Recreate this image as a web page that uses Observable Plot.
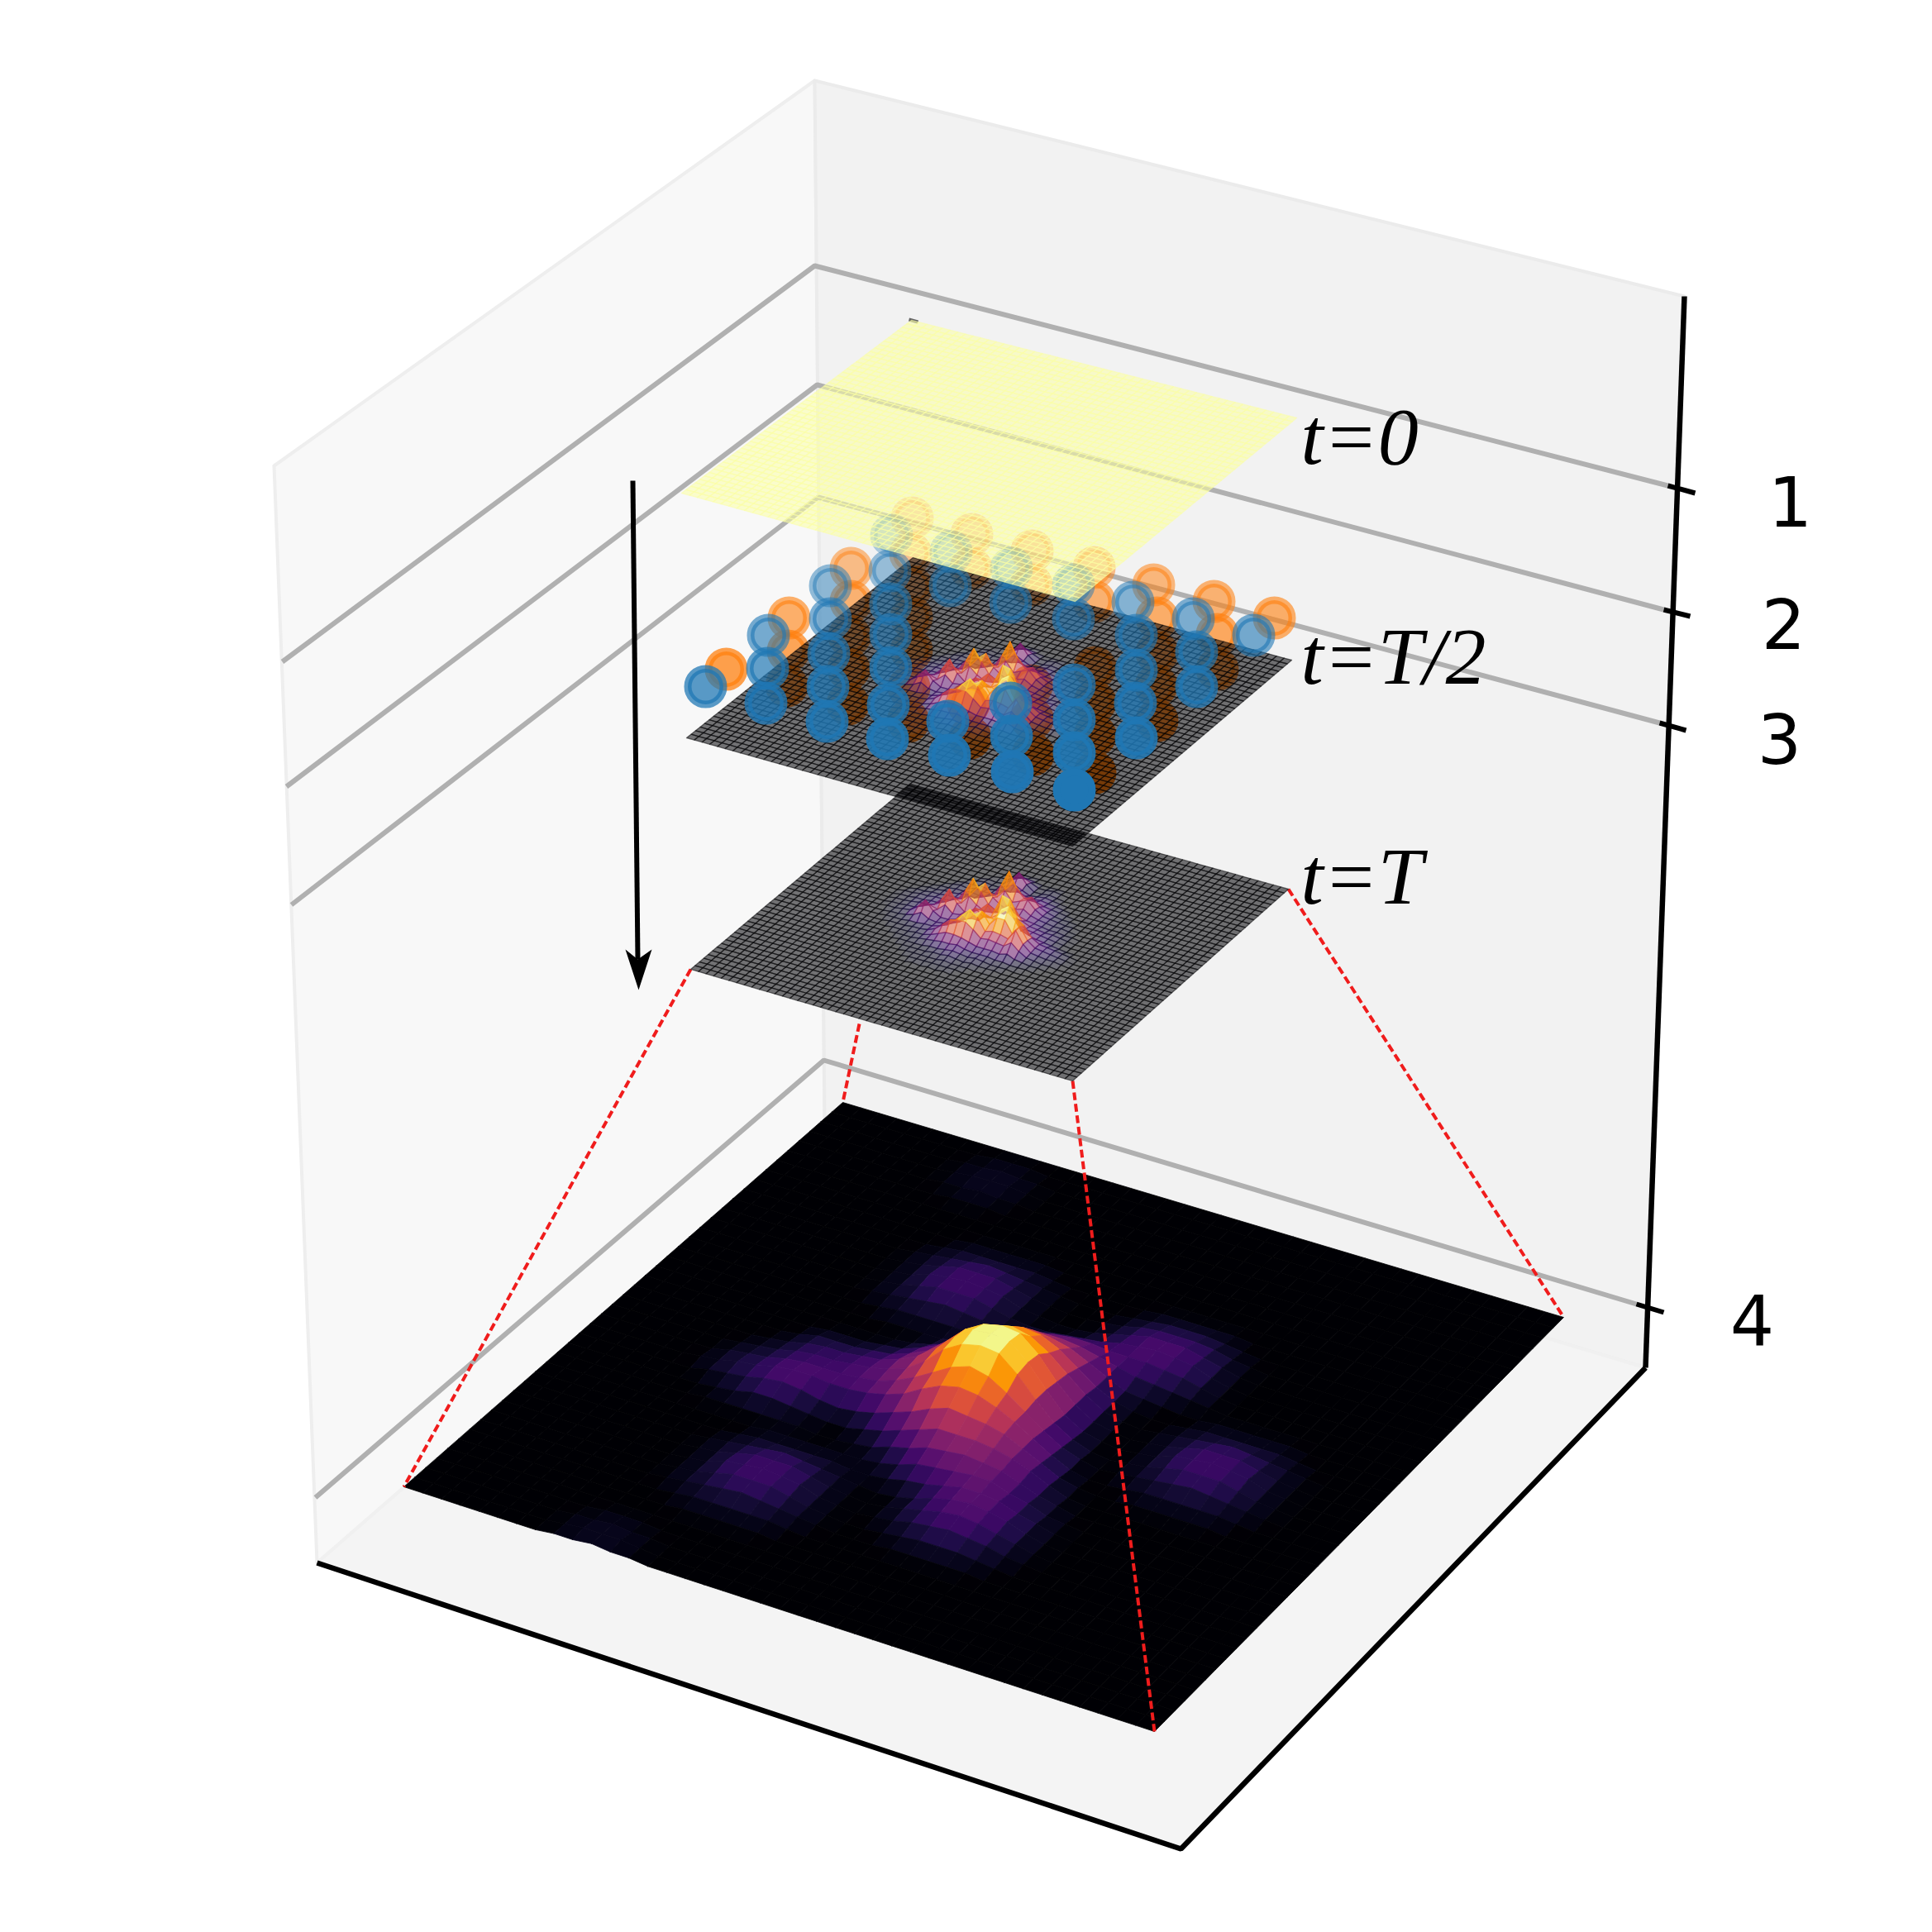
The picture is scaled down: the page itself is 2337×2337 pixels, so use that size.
<!DOCTYPE html>
<html>
<head>
<meta charset="utf-8">
<style>html,body{margin:0;padding:0;background:#fff}svg{display:block}</style>
<script src="https://cdn.jsdelivr.net/npm/d3@7"></script>
<script src="https://cdn.jsdelivr.net/npm/@observablehq/plot@0.6"></script>
</head>
<body>
<div id="chart"></div>
<script>
// ---------- walls / floor of the 3D box ----------
const leftWall  = [[331,563],[985,97],[997,1356],[383,1890]];
const rightWall = [[985,97],[2037,358],[1990,1654],[997,1356]];
const floorPane = [[383,1890],[997,1356],[1990,1654],[1428,2236]];
const zSpine = [[2037,358],[1990,1654]];
const floorSpines = [[383,1890],[1428,2236],[1990,1654]];
const depthLabels = ["1","2","3","4"];
const gridLeft  = [[341,800],[346,951],[352,1094],[381,1811]];
const gridBack  = [[985,321],[988,465],[989,601],[996,1282]];
const gridRight = [[2017,587],[2012,737],[2007,874],[1979,1577]];
const tickOuter = [[2050,596],[2044,745],[2039,883],[2012,1587]];
const labelPos  = [[2165,610],[2157,758],[2152,897],[2119,1600]];

// ---------- layer corners, order: left, back, right, front ----------
const layerT0   = [[824,596],[1102,387],[1568,505],[1300,727]];
const layerTh   = [[830,892],[1104,674],[1562,798],[1297,1023]];
const layerT    = [[835,1172],[1101,948],[1558,1075],[1297,1307]];
const layerHeat = [[488,1798],[1019,1333],[1891,1593],[1396,2094]];
const timeLabels = ["t=0","t=T/2","t=T"];
const timeLabelPos = [[1573,560],[1573,826],[1573,1092]];

// ---------- blue and orange markers ----------
const blueX = [853,929,928,926,1004,1004,1002,1001,1000,1078,1076,1077,1077,1077,1074,1073,1150,1149,1146,1148,1223,1222,1222,1223,1224,1298,1298,1299,1299,1299,1299,1370,1374,1374,1373,1374,1443,1447,1447,1516];
const blueY = [830,768,808,850,708,748,790,830,872,647,690,730,767,807,852,893,667,708,872,913,687,728,850,890,933,707,748,828,870,910,955,728,768,810,850,892,748,788,830,768];
const orangeX = [878,954,953,951,1029,1029,1027,1026,1025,1103,1101,1102,1102,1102,1099,1098,1175,1174,1171,1173,1248,1247,1247,1248,1249,1323,1323,1324,1324,1324,1324,1395,1399,1399,1398,1399,1468,1472,1472,1541];
const orangeY = [809,747,787,829,687,727,769,809,851,626,669,709,746,786,831,872,646,687,851,892,666,707,829,869,912,686,727,807,849,889,934,707,747,789,829,871,727,767,809,747];

// ---------- intensity on the bottom surface, rows j = 40 .. 0, base-36 digits ----------
const heatRows = [
"0000000000 0000000000 0000000000 0000000000 0",
"0000000001 1100000000 0000000000 0000000000 0",
"0000000011 2110000000 0000000000 0000000000 0",
"0000000012 2210000000 0000000000 0000000000 0",
"0000000011 2110000000 0000000000 0000000000 0",
"0000000001 1100000000 0000000000 0000000000 0",
"0000000000 0000000000 0000000000 0000000000 0",
"0000000000 0000000000 0000000000 0000000000 0",
"0000000000 0011111000 0000000000 0000000000 0",
"0000000000 0122222100 0001111100 0000000000 0",
"0000000000 1234543210 0012333210 0000000000 0",
"0000000000 1246664210 0124555421 0000000000 0",
"0000000000 1256765210 0135777531 0000000000 0",
"0000000000 1246664211 2346787631 0000000000 0",
"0000000000 1234543235 7887776531 0000000000 0",
"0000000000 0122222369 ccb9754321 0000000000 0",
"0000000000 00111137cg ihfb732100 1111100000 0",
"0000000000 0000136cim onjd731001 2222210000 0",
"0000000000 111236agmr trmf831012 3454321000 0",
"0000000001 333458cjrw yxqg831012 4666421000 0",
"0000000012 45567aeksy zyrh831012 5676521000 0",
"0000000123 56678adjrw yxqh941012 4666421000 0",
"0000000234 677789cglq trmga52012 3454321000 0",
"0000001245 78877 8adim onkgb62001 2222210000 0",
"0000000234 6764346 9cg jihfb73100 1111100000 0",
"0000000012 4432113 58b eeedb84100 0000000000 0",
"0000000011 1111001257 abcba74200 0000000000 0",
"0000000000 0011111124 789aa75210 0000000000 0",
"0000000000 0122222112 457998 5310 0000000000 0",
"0000000000 1234543210 1368986310 0000000000 0",
"0000000000 1246664210 1357875310 0000000000 0",
"0000000000 1256765210 1245654210 0000000000 0",
"0000000000 1246664210 0123332100 0000000000 0",
"0000000000 1234543210 0011111000 0000000000 0",
"0000000000 0122222100 0000000000 0000000000 0",
"0000000000 0011111000 0000000000 0000000000 0",
"0000000000 0000000000 0000000000 0000000000 0",
"0000000001 1100000000 0000000000 0000000000 0",
"0000000011 2110000000 0000000000 0000000000 0",
"0000000012 2210000000 0000000000 0000000000 0",
"0000000011 2110000000 0000000000 0000000000 0"
];

// ---------- height of the t=T/2 and t=T sheets, rows j = 38 .. 13, columns i = 12 .. 38 ----------
const bumpRows = [
"000000000000000000000000000",
"000000000 01210 0000 000000000",
"000000001 14741 1210 000000000",
"000000010 16f61 1210 000000000",
"000000121 14741 23210 00000000",
"000001121 23464 34321 00000000",
"000012132 24aia6 643210 000000",
"000112232 36iwibe742110 00000",
"001122343 6cai9cf8432110 0000",
"01122334 9 iod858a6432210 0000",
"1122334 7h uka65a754322110 000",
"112233 6c9h b78a ji85433210 000",
"11233 5cnc68cjgvtd6543210 000",
"1122586c67 bhbchni864 3210000",
"11238g8446 8bbigrwni9 5432100",
"0112484346 9ekpfnncla 5432100",
"0111223358 elsnced bla 4322100",
"0011122 36c ikkf9a98d7 3211000",
"0001112247 aa97555463 2110000",
"0000111234 5564333221 1100000",
"0000011112 2343232111 0000000",
"0000001111 2232121110 0000000",
"0000000111 1121110000 0000000",
"0000000011 1111100000 0000000",
"0000000001 0101000000 0000000",
"000000000000000000000000000"
];

// ---------- helpers ----------
const clean = r => r.replace(/ /g, "");
const heatGrid = heatRows.map(clean);
const bumpGrid = bumpRows.map(clean);
const digit = c => c ? parseInt(c, 36) : 0;
const heatAt = (i, j) => digit(heatGrid[40 - j][i]);
const bumpAt = (i, j) => {
  const row = bumpGrid[38 - j];
  return row && i >= 12 ? digit(row[i - 12]) : 0;
};
const bumpColor = (i, j) => Math.min(35, bumpAt(i, j) * 1.5);
const flatZero = () => 0;
const flatTop = () => 35;

// places grid node (i,j) of a layer by its four corners
function place([L, T, R, F], n, i, j) {
  const s = i / n, t = j / n;
  const mix = k => (1 - s) * (1 - t) * L[k] + s * (1 - t) * F[k] + s * t * R[k] + (1 - s) * t * T[k];
  return [mix(0), mix(1)];
}
// one closed path per cell, back cells first
function cells(corners, n, value, pxPerUnit, colorFromValue = value) {
  const order = [];
  for (let i = 0; i < n; ++i) for (let j = 0; j < n; ++j) order.push([i, j]);
  order.sort((a, b) => (b[1] - b[0]) - (a[1] - a[0]));
  const rows = [];
  order.forEach(([i, j], q) => {
    const nodes = [[i, j], [i + 1, j], [i + 1, j + 1], [i, j + 1], [i, j]];
    const v = d3.mean(nodes.slice(0, 4), ([a, b]) => colorFromValue(a, b));
    for (const [a, b] of nodes) {
      const [x, y] = place(corners, n, a, b);
      rows.push({x, y: y - value(a, b) * pxPerUnit, q, v});
    }
  });
  return rows;
}
const polygonRows = (poly, q) => [...poly, poly[0]].map(([x, y]) => ({x, y, q}));
const pair = ([x, y]) => ({x, y});
const sheetStyle = {x: "x", y: "y", z: "q", fill: "v", stroke: "v", fillOpacity: 0.54, strokeOpacity: 0.54, strokeWidth: 1.3, strokeLinejoin: "round"};

const depthAlpha = (y, near, far) => Math.min(1, 0.35 + 0.65 * (y - far) / (near - far));
const blue = blueX.map((x, k) => ({x, y: blueY[k], a: depthAlpha(blueY[k], 955, 647)})).sort((a, b) => a.y - b.y);
const orange = orangeX.map((x, k) => ({x, y: orangeY[k], a: depthAlpha(orangeY[k], 934, 626)})).sort((a, b) => a.y - b.y);

const gridRows = gridLeft.flatMap((p, k) => [
  {x: p[0], y: p[1], q: k},
  {x: gridBack[k][0], y: gridBack[k][1], q: k},
  {x: gridRight[k][0], y: gridRight[k][1], q: k}
]);
const tickRows = gridRight.flatMap((p, k) => [
  {x: p[0], y: p[1], q: k},
  {x: tickOuter[k][0], y: tickOuter[k][1], q: k}
]);
const guideRows = [
  [layerT[0], layerHeat[0]],
  [layerT[2], layerHeat[2]],
  [layerT[3], layerHeat[3]],
  [[1039, 1238], layerHeat[1]]
].flatMap(([a, b], q) => [{x: a[0], y: a[1], q}, {x: b[0], y: b[1], q}]);

const arrowShaft = [[765, 581], [771, 1160]];
const arrowTip = [[772, 1197]];
const arrowHead = {draw(c) {
  c.moveTo(0, 0); c.lineTo(-16, -49); c.lineTo(-1, -37); c.lineTo(16, -49); c.closePath();
}};
const cornerSpeck = [[1099, 386], [1110, 389]];
const butt = {strokeLinecap: "butt"};

const plot = Plot.plot({
  width: 2337, height: 2337, margin: 0,
  x: {domain: [0, 2337], range: [0, 2337], axis: null},
  y: {domain: [0, 2337], range: [0, 2337], axis: null},
  color: {type: "linear", scheme: "inferno", domain: [0, 35]},
  style: {background: "#fff", overflow: "visible"},
  marks: [
    Plot.line(polygonRows(leftWall, 0), {x: "x", y: "y", z: "q", fill: "#f8f8f8", stroke: "#eeeeee", strokeWidth: 4}),
    Plot.line(polygonRows(rightWall, 0), {x: "x", y: "y", z: "q", fill: "#f2f2f2", stroke: "#ebebeb", strokeWidth: 4}),
    Plot.line(polygonRows(floorPane, 0), {x: "x", y: "y", z: "q", fill: "#f4f4f4", stroke: "#f0f0f0", strokeWidth: 4}),
    Plot.line(gridRows, {x: "x", y: "y", z: "q", stroke: "#b0b0b0", strokeWidth: 6, strokeLinejoin: "miter", ...butt}),
    Plot.line(zSpine.map(pair), {x: "x", y: "y", stroke: "#000", strokeWidth: 6.5, ...butt}),
    Plot.line(floorSpines.map(pair), {x: "x", y: "y", stroke: "#000", strokeWidth: 6.5, strokeLinejoin: "miter", ...butt}),
    Plot.line(tickRows, {x: "x", y: "y", z: "q", stroke: "#000", strokeWidth: 6, ...butt}),
    Plot.text(depthLabels, {x: (d, k) => labelPos[k][0], y: (d, k) => labelPos[k][1], text: d => d, fontFamily: "DejaVu Sans", fontSize: 84, fill: "#000"}),

    Plot.line(cells(layerHeat, 40, heatAt, 92 / 35), {x: "x", y: "y", z: "q", fill: "v", stroke: "v", strokeWidth: 0.8, strokeLinejoin: "round"}),
    Plot.line(guideRows, {x: "x", y: "y", z: "q", stroke: "#f01c1c", strokeWidth: 4, strokeDasharray: "9.5,4.5", ...butt}),
    Plot.line(arrowShaft.map(pair), {x: "x", y: "y", stroke: "#000", strokeWidth: 6, ...butt}),
    Plot.dot(arrowTip.map(pair), {x: "x", y: "y", r: 10, symbol: arrowHead, fill: "#000", stroke: "none"}),

    Plot.line(cells(layerT, 50, bumpAt, 42 / 32, bumpColor), sheetStyle),
    Plot.dot(orange, {x: "x", y: "y", r: 21.5, fill: "#ff7f0e", stroke: "#ff7f0e", strokeWidth: 9, fillOpacity: "a", strokeOpacity: "a"}),
    Plot.line(cells(layerTh, 50, bumpAt, 42 / 32, bumpColor), sheetStyle),
    Plot.dot(blue, {x: "x", y: "y", r: 21.5, fill: "#1f77b4", stroke: "#1f77b4", strokeWidth: 9, fillOpacity: "a", strokeOpacity: "a"}),
    Plot.line(cornerSpeck.map(pair), {x: "x", y: "y", stroke: "#666", strokeWidth: 4, ...butt}),
    Plot.line(cells(layerT0, 50, flatZero, 0, flatTop), sheetStyle),

    Plot.text(timeLabels, {x: (d, k) => timeLabelPos[k][0], y: (d, k) => timeLabelPos[k][1], text: d => d, lineAnchor: "bottom", textAnchor: "start", fontFamily: "Liberation Serif", fontStyle: "italic", fontSize: 98, fill: "#000"})
  ]
});
document.getElementById("chart").append(plot);
</script>
</body>
</html>
